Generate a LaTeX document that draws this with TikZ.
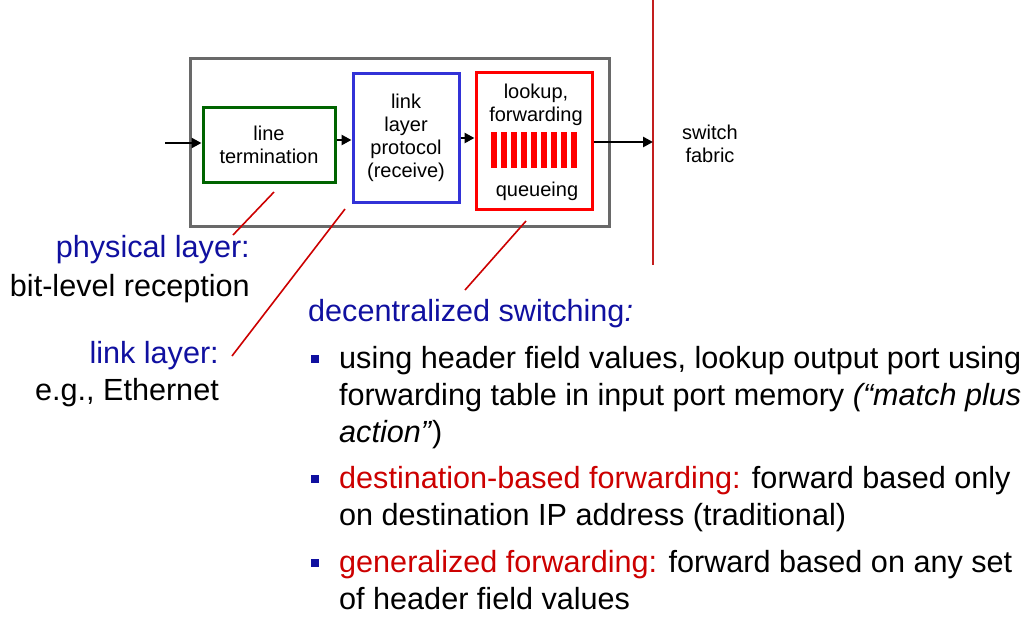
\documentclass[tikz,border=0pt]{standalone}
\usepackage{fontspec}
\setmainfont{Liberation Sans}
\usetikzlibrary{arrows.meta}
\definecolor{navy}{RGB}{16,16,160}
\definecolor{ptr}{RGB}{204,0,0}
\definecolor{dgreen}{RGB}{0,100,0}
\definecolor{bblue}{RGB}{50,50,215}
\definecolor{bred}{RGB}{255,0,0}
\definecolor{frame}{RGB}{105,105,105}
\definecolor{vline}{RGB}{195,30,30}
\newcommand\mainfs{\fontsize{30.6}{37}\selectfont}
\newcommand\boxfs{\fontsize{20}{23}\selectfont}
\begin{document}
\begin{tikzpicture}[x=1pt,y=-1pt,
  stage/.style={draw, line width=3pt, inner sep=0pt, align=center, font=\boxfs},
  arr/.style={line width=2.7pt, -{Triangle[length=10pt,width=10pt]}},
  pointer/.style={draw=ptr, line width=1.6pt},
  mtxt/.style={font=\mainfs, inner sep=0pt},
  btxt/.style={font=\mainfs, inner sep=0pt, anchor=base west},
  bul/.style={fill=navy, minimum size=8pt, inner sep=0pt},
  bar/.style={fill=bred, draw=none}]
\useasboundingbox (0,0) rectangle (1035,619);

% outer frame
\node[draw=frame, line width=3pt, minimum width=419pt, minimum height=168pt, inner sep=0pt] (frm) at (399.5,142.5) {};

% stages
\node[stage, draw=dgreen, minimum width=132pt, minimum height=75pt] (lt) at (269,144.5) {line\\termination};
\node[stage, draw=bblue, minimum width=106pt, minimum height=129pt] (lp) at (406,137.5) {link\\layer\\protocol\\(receive)};
\node[stage, draw=bred, minimum width=116pt, minimum height=137pt] (lk) at (534,140.5) {};
\node[font=\boxfs, align=center, inner sep=0pt] (lkt) at (536,105) {lookup,\\forwarding};
\node[font=\boxfs, inner sep=0pt] (qt) at (537,191) {queueing};
\foreach \i in {0,...,8} {
  \fill[bar] (491+10*\i,132) rectangle (497+10*\i,168);
}

% vertical line (switch fabric boundary)
\coordinate (vt) at (653,0);
\coordinate (vb) at (653,265);
\draw[draw=vline, line width=1.6pt] (vt) -- (vb);
\node[font=\boxfs, align=center, inner sep=0pt] (sf) at (710,144) {switch\\fabric};

% arrows
\coordinate (in) at (165,143);
\coordinate (out) at (653,142);
\draw[arr] (in) -- (lt.west |- in);
\draw[arr] (lt.east |- 0,140) -- (lp.west |- 0,140);
\draw[arr] (lp.east |- 0,138) -- (lk.west |- 0,138);
\draw[arr] (lk.east |- out) -- (out);

% labels on left
\node[mtxt, anchor=base east, text=navy] (phy) at (250,257) {physical layer:};
\node[mtxt, anchor=base east] (phy2) at (250,296) {bit-level reception};
\node[mtxt, anchor=base east, text=navy] (lnk) at (219,363) {link layer:};
\node[mtxt, anchor=base east] (lnk2) at (219,400) {e.g., Ethernet};

% pointers
\coordinate (p1a) at (274,192); \coordinate (p1b) at (233,235);
\coordinate (p2a) at (345,209); \coordinate (p2b) at (232,356);
\coordinate (p3a) at (526,221); \coordinate (p3b) at (465,290);
\draw[pointer] (p1a) -- (p1b);
\draw[pointer] (p2a) -- (p2b);
\draw[pointer] (p3a) -- (p3b);

% decentralized switching
\node[mtxt, anchor=base west, text=navy] (ds) at (308,321) {decentralized switching\textit{:}};

\node[bul] (bu1) at (315,358.5) {};
\node[btxt] (b1a) at (339,368) {using header field values, lookup output port using};
\node[btxt] (b1b) at (339,405) {forwarding table in input port memory \textit{(“match plus}};
\node[btxt] (b1c) at (339,442) {\textit{action”}\/)};

\node[bul] (bu2) at (315,478.5) {};
\node[btxt] (b2a) at (339,488) {\textcolor{ptr}{destination-based forwarding:} forward based only};
\node[btxt] (b2b) at (339,525) {on destination IP address (traditional)};

\node[bul] (bu3) at (315,562.5) {};
\node[btxt] (b3a) at (339,572) {\textcolor{ptr}{generalized forwarding:} forward based on any set};
\node[btxt] (b3b) at (339,609) {of header field values};
\end{tikzpicture}
\end{document}
